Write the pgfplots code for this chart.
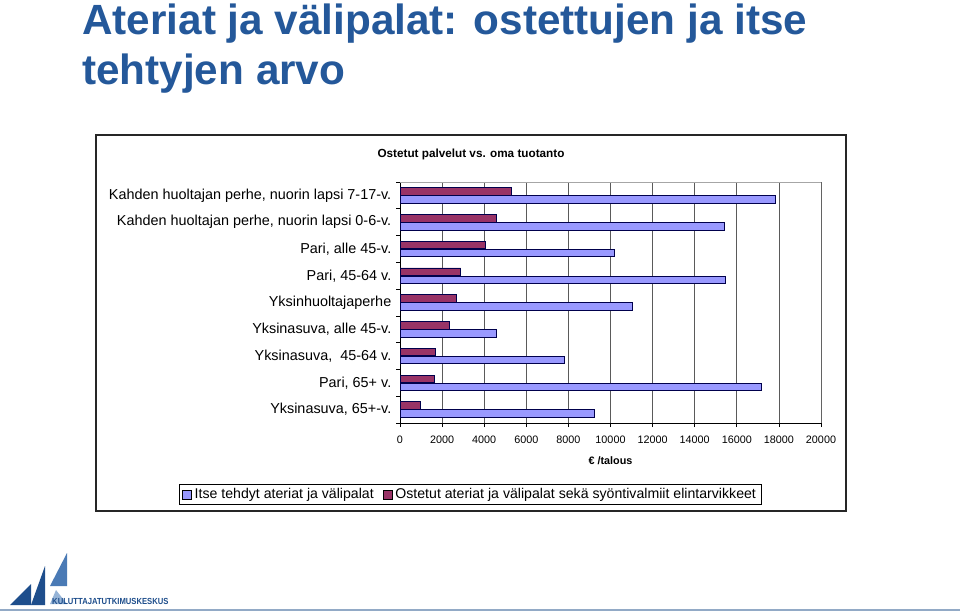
\documentclass[border=0pt]{standalone}
\usepackage{pgfplots}
\usepackage{fontspec}
\setmainfont{Liberation Sans}
\pgfplotsset{compat=1.18}
\definecolor{titleblue}{RGB}{36,88,154}
\definecolor{barblue}{RGB}{153,153,255}
\definecolor{barpurple}{RGB}{153,51,102}
\definecolor{gridgray}{RGB}{90,90,90}
\definecolor{logodark}{RGB}{30,78,140}
\definecolor{logomid}{RGB}{74,122,181}
\definecolor{logolight}{RGB}{150,180,215}

% rows top to bottom: y=9 ... y=1
\pgfplotstableread{
y  itse   ostetut
9  17850  5300
8  15390  4560
7  10170  4070
6  15470  2880
5  11050  2690
4  4590   2360
3  7810   1690
2  17180  1630
1  9250   970
}\arvot

\begin{document}
\begin{tikzpicture}
\begin{scope}[x=0.75pt,y=-0.75pt]
\fill[white] (0,0) rectangle (960,615);
\useasboundingbox (0,0) rectangle (960,615);

% main title
\node[anchor=base west,inner sep=0,text=titleblue,font=\bfseries\fontsize{31.7}{36}\selectfont] at (82,34) {Ateriat ja välipalat: ostettujen ja itse};
\node[anchor=base west,inner sep=0,text=titleblue,font=\bfseries\fontsize{31.7}{36}\selectfont] at (82,84) {tehtyjen arvo};

% chart frame and title
\draw[black!85,line width=0.8pt] (96,135) rectangle (846,511);
\node[font=\bfseries\fontsize{8.8}{10}\selectfont] at (471,154) {Ostetut palvelut vs. oma tuotanto};

% logo
\fill[logodark] (10,605) -- (31,584) -- (31,605) -- cycle;
\fill[logodark] (31,605) -- (45,566) -- (45,605) -- cycle;
\fill[logomid] (50,586) -- (67,553) -- (67,586) -- cycle;
\fill[logolight] (50,604) -- (56,590) -- (67,604) -- cycle;
\node[anchor=base west,inner sep=0,text=logodark,font=\bfseries\fontsize{6.6}{8}\selectfont,xscale=0.87] at (52,604) {KULUTTAJATUTKIMUSKESKUS};
\draw[logolight!80!gray,line width=1pt] (0,610) -- (960,610);
\end{scope}

\begin{axis}[
  at={(300pt,-317.25pt)}, anchor=south west,
  scale only axis,
  width=315.75pt, height=180.75pt,
  xmin=0, xmax=20000,
  ymin=0.5, ymax=9.5,
  axis x line*=bottom,
  axis y line*=left,
  axis line style={black, line width=0.6pt},
  xtick={0,2000,...,20000},
  scaled x ticks=false,
  xticklabel style={/pgf/number format/1000 sep={}, font=\fontsize{8.1}{9}\selectfont, yshift=-3pt},
  /pgf/number format/assume math mode=true,
  xmajorgrids=true,
  grid style={gridgray, line width=0.6pt},
  ytick={1,...,9},
  yticklabels={{Yksinasuva, 65+-v.},{Pari, 65+ v.},{Yksinasuva,\ \ 45-64 v.},{Yksinasuva, alle 45-v.},{Yksinhuoltajaperhe},{Pari, 45-64 v.},{Pari, alle 45-v.},{Kahden huoltajan perhe, nuorin lapsi 0-6-v.},{Kahden huoltajan perhe, nuorin lapsi 7-17-v.}},
  yticklabel style={font=\fontsize{10.8}{12}\selectfont},
  minor ytick={0.5,1.5,...,9.5},
  major y tick style={draw=none},
  minor y tick style={black, line width=0.6pt},
  x tick style={black, line width=0.6pt},
  tick align=outside,
  major tick length=3pt,
  minor tick length=3pt,
  xlabel={€ /talous},
  xlabel style={font=\bfseries\fontsize{8.1}{9}\selectfont, yshift=-3pt},
  bar width=0.28,
  legend columns=2,
  legend style={at={(rel axis cs:0.1675,-0.297)}, anchor=center,
    draw=black, line width=0.6pt, font=\fontsize{10.6}{12}\selectfont,
    inner xsep=2pt, inner ysep=1pt, /tikz/every even column/.append style={column sep=5pt}},
  legend image code/.code={\draw[#1,draw=black,line width=0.6pt] (0pt,-3.3pt) rectangle (6.6pt,3.3pt);},
]
\addplot[xbar, bar shift=-0.15, fill=barblue, draw=black!70!blue, line width=0.6pt] table[x=itse, y=y] {\arvot};
\addlegendentry{Itse tehdyt ateriat ja välipalat}
\addplot[xbar, bar shift=0.15, fill=barpurple, draw=black!70!blue, line width=0.6pt] table[x=ostetut, y=y] {\arvot};
\addlegendentry{Ostetut ateriat ja välipalat sekä syöntivalmiit elintarvikkeet}
\draw[gray!70, line width=0.6pt] (rel axis cs:0,1) -- (rel axis cs:1,1) -- (rel axis cs:1,0);
\end{axis}
\end{tikzpicture}
\end{document}
